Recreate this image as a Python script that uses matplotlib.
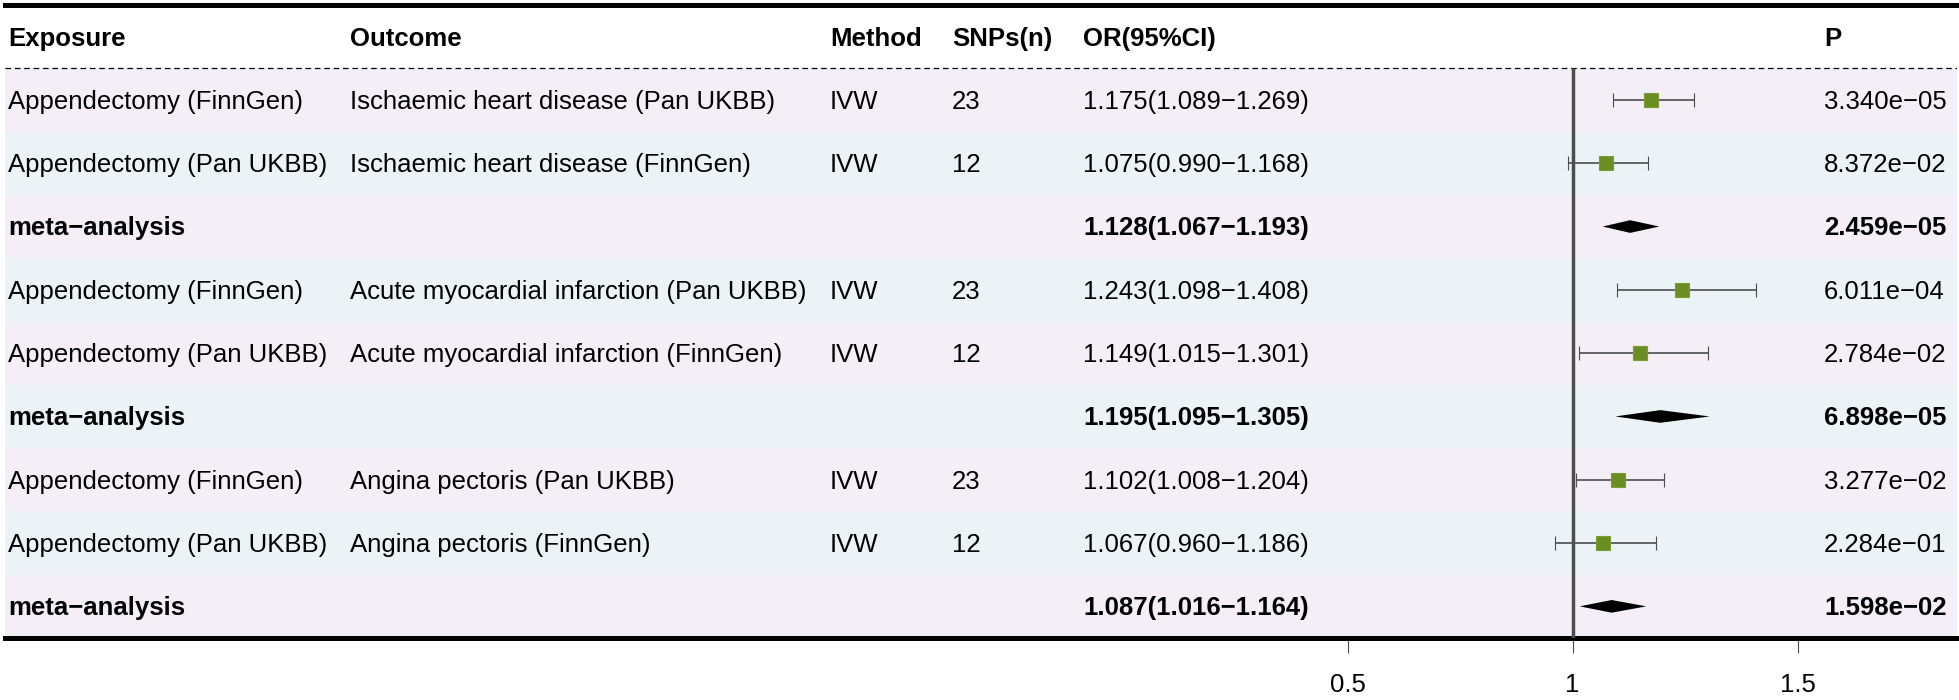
import matplotlib
matplotlib.use("Agg")
import matplotlib.pyplot as plt

plt.rcParams["font.family"] = ["Liberation Sans", "DejaVu Sans"]

# ── data ──────────────────────────────────────────────────────────────────────
headers = ["Exposure", "Outcome", "Method", "SNPs(n)", "OR(95%CI)", "P"]
exposure = ["Appendectomy (FinnGen)", "Appendectomy (Pan UKBB)", "meta−analysis",
            "Appendectomy (FinnGen)", "Appendectomy (Pan UKBB)", "meta−analysis",
            "Appendectomy (FinnGen)", "Appendectomy (Pan UKBB)", "meta−analysis"]
outcome = ["Ischaemic heart disease (Pan UKBB)", "Ischaemic heart disease (FinnGen)", "",
           "Acute myocardial infarction (Pan UKBB)", "Acute myocardial infarction (FinnGen)", "",
           "Angina pectoris (Pan UKBB)", "Angina pectoris (FinnGen)", ""]
method = ["IVW", "IVW", "", "IVW", "IVW", "", "IVW", "IVW", ""]
snps = ["23", "12", "", "23", "12", "", "23", "12", ""]
or_est = [1.175, 1.075, 1.128, 1.243, 1.149, 1.195, 1.102, 1.067, 1.087]
or_lo = [1.089, 0.990, 1.067, 1.098, 1.015, 1.095, 1.008, 0.960, 1.016]
or_hi = [1.269, 1.168, 1.193, 1.408, 1.301, 1.305, 1.204, 1.186, 1.164]
pvals = [3.340e-05, 8.372e-02, 2.459e-05, 6.011e-04, 2.784e-02, 6.898e-05,
         3.277e-02, 2.284e-01, 1.598e-02]
is_meta = [False, False, True, False, False, True, False, False, True]
xticks = [0.5, 1, 1.5]

# ── layout (pixels of the 1959x700 canvas) ───────────────────────────────────
W, H = 1959, 700
AX_L, AX_R = 5, 1957          # table borders
AX_T, AX_B = 5, 638
REF_PX, PX_PER_UNIT = 1572.5, 450.0
col_px = [8, 350, 830, 952, 1083, 1824]
BAND = ["#F4EEF6", "#EBF3F6"]
GREEN = "#6B8E23"
GREY = "#4D4D4D"
FS = 18.5
TXT_DY = 0.03                 # small nudge so text sits like the reference

fig = plt.figure(figsize=(W / 100, H / 100), dpi=100)
ax = fig.add_axes([AX_L / W, 1 - AX_B / H, (AX_R - AX_L) / W, (AX_B - AX_T) / H])

n = len(exposure)
ax.set_ylim(n + 1, 0)
ax.set_xlim(1 - (REF_PX - AX_L) / PX_PER_UNIT, 1 + (AX_R - REF_PX) / PX_PER_UNIT)

# alternating row bands
for i in range(n):
    ax.axhspan(i + 1, i + 2, color=BAND[i % 2], lw=0, zorder=0)

# dashed separator under header
ax.axhline(1, color="black", lw=0.9, ls=(0, (4.5, 3)), zorder=2)

# reference line at OR = 1
ax.vlines(1, 1, n + 1, color=GREY, lw=2.5, zorder=3)

tr = ax.get_yaxis_transform()


def colx(px):
    return (px - AX_L) / (AX_R - AX_L)


# header
for h, px in zip(headers, col_px):
    ax.text(colx(px), 0.5 + TXT_DY, h, transform=tr, ha="left", va="center",
            fontsize=FS, fontweight="bold")

# body
for i in range(n):
    y = i + 1.5
    wt = "bold" if is_meta[i] else "normal"
    or_txt = f"{or_est[i]:.3f}({or_lo[i]:.3f}−{or_hi[i]:.3f})"
    p_txt = f"{pvals[i]:.3e}".replace("-", "−")
    cells = [exposure[i], outcome[i], method[i], snps[i], or_txt, p_txt]
    for c, px in zip(cells, col_px):
        if c:
            ax.text(colx(px), y + TXT_DY, c, transform=tr, ha="left", va="center",
                    fontsize=FS, fontweight=wt)

    if is_meta[i]:
        hh = 0.1
        ax.fill([or_lo[i], or_est[i], or_hi[i], or_est[i]],
                [y, y - hh, y, y + hh], color="black", lw=0, zorder=4)
    else:
        ax.errorbar(or_est[i], y, xerr=[[or_est[i] - or_lo[i]], [or_hi[i] - or_est[i]]],
                    fmt="s", color=GREEN, ms=10, mec="#7A9E30", mew=0.8, ecolor=GREY,
                    elinewidth=1.2, capsize=4.8, capthick=1.2, zorder=4)

# borders and axis
for s in ["left", "right"]:
    ax.spines[s].set_visible(False)
for s in ["top", "bottom"]:
    ax.spines[s].set_linewidth(3.6)
    ax.spines[s].set_color("black")
ax.set_yticks([])
ax.set_xticks(xticks)
ax.set_xticklabels([f"{t:g}" for t in xticks])
ax.tick_params(axis="x", direction="out", length=11, width=0.8, color=GREY,
               pad=14, labelsize=FS)

fig.savefig("out.png", dpi=100)
plt.close(fig)
